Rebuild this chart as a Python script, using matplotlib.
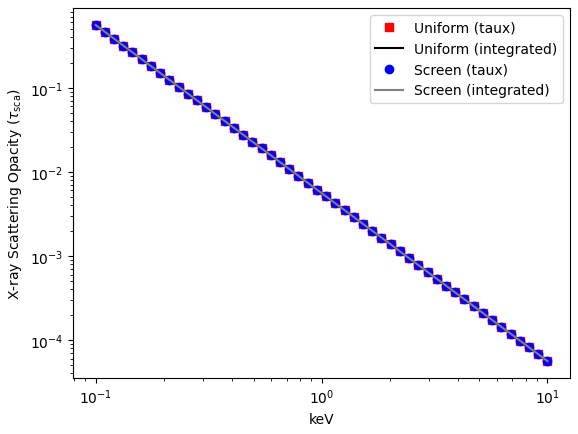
import matplotlib
matplotlib.use("Agg")
import matplotlib.pyplot as plt

# energy grid (keV)
energy = [0.1, 0.1099, 0.1207, 0.1326, 0.1456, 0.16, 0.1758, 0.1931, 0.2121, 0.233,
          0.256, 0.2812, 0.3089, 0.3393, 0.3728, 0.4095, 0.4498, 0.4942, 0.5429, 0.5964,
          0.6551, 0.7197, 0.7906, 0.8685, 0.9541, 1.048, 1.151, 1.265, 1.39, 1.526,
          1.677, 1.842, 2.024, 2.223, 2.442, 2.683, 2.947, 3.237, 3.556, 3.907,
          4.292, 4.715, 5.179, 5.69, 6.251, 6.866, 7.543, 8.286, 9.103, 10.0]

# scattering opacity, uniform model
uniform_taux = [0.56, 0.464, 0.3845, 0.3186, 0.264, 0.2188, 0.1813, 0.1502, 0.1245, 0.1032,
                0.0855, 0.0708, 0.0587, 0.0486, 0.0403, 0.0334, 0.0277, 0.0229, 0.019, 0.01575,
                0.01305, 0.01081, 0.00896, 0.00742, 0.00615, 0.0051, 0.00422, 0.0035, 0.0029, 0.0024,
                0.00199, 0.00165, 0.00137, 0.00113, 0.000939, 0.000778, 0.000645, 0.000534, 0.000443, 0.000367,
                0.000304, 0.000252, 0.000209, 0.000173, 0.000143, 0.000119, 0.0000984, 0.0000816, 0.0000676, 0.000056]
uniform_int = list(uniform_taux)

# screen model (same numbers)
screen_taux = list(uniform_taux)
screen_int = list(uniform_taux)

fig, ax = plt.subplots(figsize=(5.78, 4.35), dpi=100)
fig.subplots_adjust(left=0.1263, right=0.9862, top=0.979, bottom=0.129)
ax.plot(energy, uniform_taux, 's', color='red', label='Uniform (taux)')
ax.plot(energy, uniform_int, '-', color='black', label='Uniform (integrated)')
ax.plot(energy, screen_taux, 'o', color='blue', label='Screen (taux)')
ax.plot(energy, screen_int, '-', color='gray', label='Screen (integrated)')
ax.set_xscale('log')
ax.set_yscale('log')
ax.set_xlabel('keV')
ax.set_ylabel(r'X-ray Scattering Opacity ($\tau_{\rm sca}$)')
ax.legend()
plt.savefig('out.png', dpi=100)
